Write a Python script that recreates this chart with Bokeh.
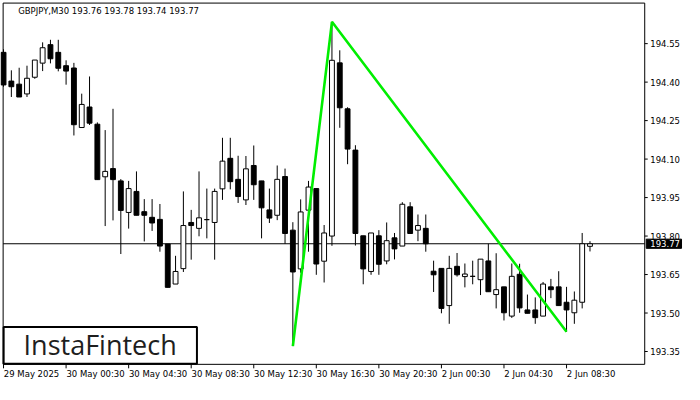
from bokeh.plotting import figure
from bokeh.models import Range1d, ColumnDataSource
from bokeh.core.properties import value
from bokeh.embed import file_html
from bokeh.resources import INLINE

symbol = "GBPJPY,M30"
opens = [194.516, 194.404, 194.392, 194.354, 194.419, 194.474, 194.546, 194.516, 194.464, 194.455,
         194.223, 194.303, 194.236, 194.031, 194.063, 194.015, 193.892, 193.974, 193.895, 193.873,
         193.865, 193.769, 193.613, 193.673, 193.853, 193.830, 193.864, 193.853, 193.984, 194.103,
         194.021, 193.941, 194.075, 194.015, 193.902, 193.881, 194.032, 193.823, 193.672, 193.901,
         193.985, 193.702, 193.800, 194.475, 194.296, 194.135, 193.801, 193.662, 193.801, 193.703,
         193.793, 193.761, 193.914, 193.823, 193.830, 193.663, 193.674, 193.529, 193.682, 193.642,
         193.643, 193.630, 193.703, 193.572, 193.602, 193.488, 193.651, 193.512, 193.512, 193.488,
         193.602, 193.602, 193.542, 193.501, 193.542, 193.760]
highs = [194.528, 194.446, 194.456, 194.464, 194.486, 194.555, 194.565, 194.565, 194.485, 194.475,
         194.355, 194.422, 194.243, 194.213, 194.296, 194.022, 194.015, 194.052, 193.944, 193.944,
         193.925, 193.769, 193.723, 193.974, 193.902, 194.052, 193.985, 193.985, 194.183, 194.183,
         194.113, 194.112, 194.153, 194.015, 193.985, 194.075, 194.063, 193.854, 193.943, 194.015,
         193.985, 193.843, 194.635, 194.524, 194.302, 194.154, 193.801, 193.812, 193.823, 193.853,
         193.812, 193.932, 193.932, 193.884, 193.884, 193.704, 193.674, 193.723, 193.734, 193.693,
         193.704, 193.710, 193.770, 193.733, 193.602, 193.693, 193.692, 193.572, 193.561, 193.621,
         193.633, 193.663, 193.602, 193.584, 193.812, 193.780]
lows = [194.382, 194.342, 194.342, 194.342, 194.413, 194.443, 194.473, 194.442, 194.390, 194.192,
        194.223, 194.233, 194.020, 193.839, 193.861, 193.730, 193.829, 193.881, 193.779, 193.820,
        193.739, 193.600, 193.613, 193.660, 193.708, 193.799, 193.791, 193.708, 193.941, 193.982,
        193.929, 193.921, 193.941, 193.791, 193.851, 193.862, 193.770, 193.371, 193.657, 193.739,
        193.649, 193.619, 193.762, 194.222, 194.080, 193.763, 193.612, 193.649, 193.649, 193.690,
        193.709, 193.761, 193.810, 193.780, 193.739, 193.582, 193.499, 193.458, 193.642, 193.600,
        193.612, 193.570, 193.583, 193.518, 193.471, 193.481, 193.501, 193.499, 193.458, 193.488,
        193.558, 193.529, 193.427, 193.458, 193.518, 193.740]
closes = [194.389, 194.382, 194.342, 194.415, 194.486, 194.534, 194.491, 194.454, 194.443, 194.234,
          194.313, 194.240, 194.020, 194.052, 194.020, 193.900, 193.985, 193.881, 193.881, 193.851,
          193.761, 193.600, 193.662, 193.841, 193.841, 193.871, 193.864, 193.974, 194.092, 194.012,
          193.954, 194.062, 194.000, 193.910, 193.870, 194.021, 193.810, 193.660, 193.894, 193.991,
          193.691, 193.812, 194.485, 194.300, 194.139, 193.810, 193.672, 193.812, 193.690, 193.782,
          193.750, 193.924, 193.810, 193.841, 193.770, 193.649, 193.518, 193.674, 193.649, 193.652,
          193.643, 193.710, 193.583, 193.591, 193.501, 193.643, 193.520, 193.499, 193.482, 193.613,
          193.591, 193.529, 193.512, 193.550, 193.770, 193.770]
tick_pos = [0, 8, 16, 24, 32, 40, 48, 56, 64, 72]
tick_labels = ["29 May 2025", "30 May 00:30", "30 May 04:30", "30 May 08:30", "30 May 12:30",
               "30 May 16:30", "30 May 20:30", "2 Jun 00:30", "2 Jun 04:30", "2 Jun 08:30"]
price_ticks = [193.35, 193.50, 193.65, 193.80, 193.95, 194.10, 194.25, 194.40, 194.55]
last_price = 193.77
pattern_idx = [37, 42, 72]
logo_text = "InstaFintech"

FONT = "DejaVu Sans"
FS = "8.5px"

# ---- geometry (canvas px) ----
CW, CH = 684, 384
SX, SY = CW / 700.0, CH / 400.0
BOX_L, BOX_R, BOX_T, BOX_B = 2.7, 659.3, 2.7, 379.0      # chart box in 700x400 units
XL, XR = -0.05, 82.0                                        # data x at box edges
YB, YT = 193.300, 194.708                                   # data y at box edges
ppx = (BOX_R - BOX_L) * SX / (XR - XL)
ppy = (BOX_B - BOX_T) * SY / (YT - YB)
x_start = XL - BOX_L * SX / ppx
x_end = XR + (CW - BOX_R * SX) / ppx
y_end = YT + BOX_T * SY / ppy
y_start = YB - (CH - BOX_B * SY) / ppy


def dx(px):
    return px / ppx


def dy(px):
    return px / ppy


p = figure(frame_width=CW, frame_height=CH, output_backend="svg", toolbar_location=None,
           x_range=Range1d(x_start, x_end), y_range=Range1d(y_start, y_end),
           x_axis_location=None, y_axis_location=None, min_border=0)
p.background_fill_color = "white"
p.border_fill_color = "white"
p.outline_line_color = None
p.grid.visible = False

n = len(opens)
src = ColumnDataSource(dict(
    x=list(range(n)),
    top=[max(o, c) for o, c in zip(opens, closes)],
    bottom=[min(o, c) for o, c in zip(opens, closes)],
    high=highs, low=lows,
    fill=["white" if c > o else "black" for o, c in zip(opens, closes)],
))

# current price line (behind candles)
p.segment(x0=[XL], y0=[last_price], x1=[XR], y1=[last_price], line_color="black",
          line_width=1, level="underlay")

# candles
p.segment(x0="x", y0="low", x1="x", y1="high", source=src, line_color="black", line_width=1)
p.vbar(x="x", top="top", bottom="bottom", width=0.62, source=src, fill_color="fill",
       line_color="black", line_width=1)

# pattern line
py = [lows[pattern_idx[0]], highs[pattern_idx[1]], lows[pattern_idx[2]]]
p.line(x=pattern_idx, y=py, line_color="#00ee00", line_width=2.6)

# chart border
p.quad(left=[XL], right=[XR], bottom=[YB], top=[YT], fill_color=None,
       line_color="black", line_width=1)

# right price scale
p.segment(x0=[XR] * len(price_ticks), y0=price_ticks, x1=[XR + dx(3)] * len(price_ticks),
          y1=price_ticks, line_color="black", line_width=1)
p.text(x=[XR + dx(5.5)] * len(price_ticks), y=price_ticks,
       text=["%.2f" % t for t in price_ticks], text_align="left", text_baseline="middle",
       text_font=value(FONT), text_font_size=value(FS), text_color="black")

# current price box
p.quad(left=[XR + dx(1.5)], right=[XR + dx(36.8)], bottom=[last_price - dy(4.6)],
       top=[last_price + dy(4.6)], fill_color="black", line_color="black", line_width=1)
p.text(x=[XR + dx(5.5)], y=[last_price], text=["%.2f" % last_price], text_align="left",
       text_baseline="middle", text_font=value(FONT), text_font_size=value(FS),
       text_color="white")

# time scale
p.segment(x0=tick_pos, y0=[YB] * len(tick_pos), x1=tick_pos, y1=[YB - dy(4)] * len(tick_pos),
          line_color="black", line_width=1)
p.text(x=[t + dx(0.3) for t in tick_pos], y=[YB - dy(4.2)] * len(tick_pos), text=tick_labels,
       text_align="left", text_baseline="top", text_font=value(FONT),
       text_font_size=value(FS), text_color="black")

# header
header = "%s  %.2f %.2f %.2f %.2f" % (symbol, opens[-1], highs[-1], lows[-1], closes[-1])
p.text(x=[XL + dx(15)], y=[YT - dy(3)], text=[header], text_align="left", text_baseline="top",
       text_font=value(FONT), text_font_size=value(FS), text_color="black")

# logo
p.quad(left=[XL + dx(0.5)], right=[XL + dx(193.8)], bottom=[YB + dy(0.5)],
       top=[YB + dy(37.4)], fill_color="white", line_color="black", line_width=2)
p.text(x=[XL + dx(97)], y=[YB + dy(19.8)], text=[logo_text], text_align="center",
       text_baseline="middle", text_font=value("Open Sans"), text_font_size=value("27px"),
       text_color="#1e1e1e")

open("out.html", "w").write(file_html(p, INLINE))
